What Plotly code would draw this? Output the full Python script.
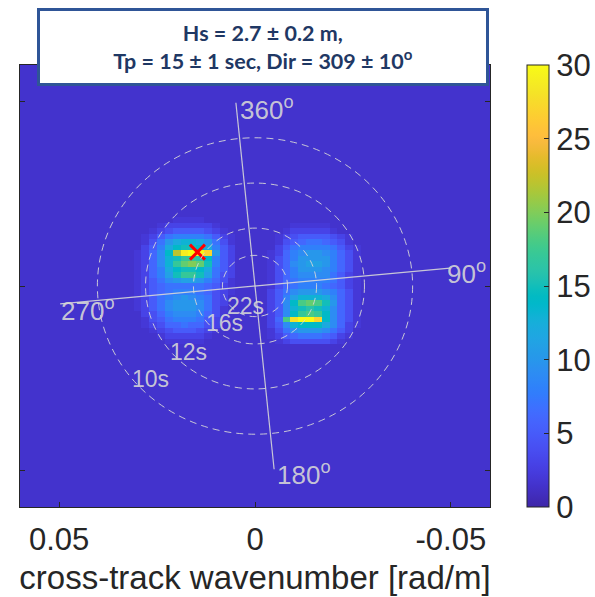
import numpy as np
import plotly.graph_objects as go

# ---------------- data ----------------
ZMIN, ZMAX = 0, 30
BG = 1.5                     # background spectral density
b = BG
DX, DY = 0.002, 0.0015       # grid spacing [rad/m]
KX = np.round(np.arange(-0.060, 0.060 + DX / 2, DX), 4)
KY = np.round(np.arange(-0.060, 0.060 + DY / 2, DY), 5)

# left patch: columns x = 0.030 ... 0.004 (step -DX), rows y = 0.018 ... -0.015 (step -DY)
LEFT_X0, LEFT_Y0 = 0.030, 0.018
left_patch = [
    [b, b, b, b, b, 2, 2, 2, 2, b, b, b, b, b],
    [b, b, b, 2, 3, 3, 3, 3, 3, 3, 2, b, b, b],
    [b, b, 2, 3, 4, 5, 5, 5, 5, 4, 3, 2, b, b],
    [b, 2, 3, 5, 7, 8, 8, 8, 8, 7, 5, 3, 2, b],
    [b, 2, 4, 7, 10, 12, 13, 13, 12, 10, 7, 4, 2, b],
    [b, 3, 5, 8, 12, 14, 15, 15, 14, 12, 8, 5, 3, b],
    [2, 3, 6, 9, 14, 22, 29, 30, 30, 27, 10, 5, 3, b],
    [2, 3, 6, 9, 13, 15, 17, 17, 16, 14, 8, 5, 3, b],
    [2, 3, 6, 9, 13, 17, 19, 20, 19, 15, 8, 5, 3, b],
    [2, 3, 6, 8, 12, 14, 15, 15, 14, 12, 7, 5, 3, b],
    [2, 3, 6, 8, 11, 15, 17, 17, 15, 11, 7, 4, 3, b],
    [2, 3, 5, 7, 9, 10, 11, 11, 10, 8, 6, 4, 2, b],
    [2, 3, 5, 6, 7, 7, 7, 7, 7, 6, 5, 3, 2, b],
    [2, 3, 5, 6, 7, 8, 8, 8, 7, 6, 4, 3, 2, b],
    [2, 3, 5, 7, 8, 9, 10, 9, 8, 7, 4, 3, b, b],
    [2, 3, 5, 7, 9, 10, 10, 10, 9, 7, 4, 3, b, b],
    [2, 3, 5, 7, 9, 10, 10, 10, 9, 7, 4, 2, b, b],
    [b, 3, 4, 6, 8, 9, 9, 9, 8, 6, 4, 2, b, b],
    [b, 2, 4, 5, 7, 8, 8, 8, 7, 5, 3, 2, b, b],
    [b, 2, 3, 4, 6, 6, 7, 6, 6, 4, 3, b, b, b],
    [b, b, 2, 3, 4, 5, 5, 5, 4, 3, 2, b, b, b],
    [b, b, b, 2, 3, 3, 3, 3, 3, 2, b, b, b, b],
    [b, b, b, b, 2, 2, 2, 2, 2, b, b, b, b, b],
]

# right patch: columns x = -0.004 ... -0.030, rows y = 0.018 ... -0.015
RIGHT_X0, RIGHT_Y0 = -0.004, 0.018
right_patch = [
    [b, b, b, b, b, b, b, b, b, b, b, b, b, b],
    [b, b, b, 2, 2, 2, 2, 2, b, b, b, b, b, b],
    [b, b, 2, 3, 3, 3, 3, 3, 2, b, b, b, b, b],
    [b, 2, 3, 4, 5, 5, 5, 5, 4, 3, 2, b, b, b],
    [b, 2, 4, 5, 6, 7, 7, 6, 5, 4, 2, b, b, b],
    [b, 3, 5, 7, 8, 8, 8, 8, 7, 5, 3, 2, b, b],
    [2, 3, 6, 8, 9, 10, 10, 9, 8, 6, 4, 2, b, b],
    [2, 4, 6, 8, 10, 10, 10, 10, 8, 6, 4, 2, b, b],
    [2, 4, 6, 9, 10, 11, 11, 10, 8, 6, 4, 2, b, b],
    [2, 4, 6, 8, 10, 10, 10, 9, 8, 6, 4, 2, b, b],
    [2, 4, 6, 8, 9, 9, 9, 9, 7, 5, 3, 2, b, b],
    [2, 4, 6, 7, 8, 8, 8, 8, 7, 5, 3, 2, b, b],
    [2, 4, 6, 7, 8, 8, 8, 7, 6, 5, 3, 2, b, b],
    [3, 5, 7, 9, 10, 10, 10, 9, 8, 6, 4, 2, b, b],
    [3, 5, 8, 11, 13, 13, 13, 12, 9, 6, 4, 2, b, b],
    [3, 5, 9, 14, 18, 19, 18, 15, 10, 6, 4, 2, b, b],
    [3, 5, 9, 13, 15, 16, 15, 13, 9, 6, 4, 2, b, b],
    [3, 5, 9, 14, 17, 18, 17, 14, 9, 6, 4, 2, b, b],
    [3, 6, 18, 28, 30, 30, 27, 14, 9, 6, 4, 2, b, b],
    [3, 5, 9, 13, 14, 14, 14, 12, 9, 6, 3, 2, b, b],
    [2, 4, 7, 9, 10, 10, 10, 9, 7, 5, 3, b, b, b],
    [2, 3, 5, 6, 7, 7, 7, 6, 5, 3, 2, b, b, b],
    [b, 2, 3, 4, 4, 4, 4, 4, 3, 2, b, b, b, b],
]

PEAK_X, PEAK_Y = 0.0147, 0.0092          # red cross (spectral peak)

PERIODS = [22, 16, 12, 10]               # wave period circles [s]
PERIOD_LABELS = ["22s", "16s", "12s", "10s"]
PERIOD_LABEL_X = [0.0023, 0.0079, 0.0170, 0.0266]
PERIOD_LABEL_Y = [-0.0054, -0.0100, -0.0179, -0.0252]

DIR_ROT = 5.6                            # rotation of compass [deg]
DIR_RADIUS = 0.05
DIR_LABELS = ["360<sup>o</sup>", "90<sup>o</sup>", "180<sup>o</sup>", "270<sup>o</sup>"]
DIR_LABEL_X = [-0.0030, -0.0540, -0.0124, 0.0426]
DIR_LABEL_Y = [0.0482, 0.0038, -0.0509, -0.0065]

TITLE_LINES = ["Hs = 2.7 ± 0.2 m,", "Tp = 15 ± 1 sec, Dir = 309 ± 10<sup>o</sup>"]
XTICKS = [0.05, 0, -0.05]
XTICK_TEXT = ["0.05", "0", "-0.05"]
CB_TICKS = [0, 5, 10, 15, 20, 25, 30]

# ---------------- build grid ----------------
z = np.full((len(KY), len(KX)), BG, dtype=float)
for patch, x0, y0 in [(left_patch, LEFT_X0, LEFT_Y0), (right_patch, RIGHT_X0, RIGHT_Y0)]:
    for i, row in enumerate(patch):
        iy = int(round((y0 - i * DY + 0.06) / DY))
        for j, v in enumerate(row):
            ix = int(round((x0 - j * DX + 0.06) / DX))
            z[iy, ix] = v

parula = [
    (0.2422, 0.1504, 0.6603), (0.2504, 0.1650, 0.7076), (0.2578, 0.1818, 0.7511), (0.2647, 0.1978, 0.7952),
    (0.2706, 0.2147, 0.8364), (0.2751, 0.2342, 0.8710), (0.2783, 0.2559, 0.8991), (0.2803, 0.2782, 0.9221),
    (0.2813, 0.3006, 0.9414), (0.2810, 0.3228, 0.9579), (0.2795, 0.3447, 0.9717), (0.2760, 0.3667, 0.9829),
    (0.2699, 0.3892, 0.9906), (0.2602, 0.4123, 0.9952), (0.2440, 0.4358, 0.9988), (0.2206, 0.4603, 0.9973),
    (0.1963, 0.4847, 0.9892), (0.1834, 0.5074, 0.9798), (0.1786, 0.5289, 0.9682), (0.1764, 0.5499, 0.9520),
    (0.1687, 0.5703, 0.9359), (0.1540, 0.5902, 0.9218), (0.1460, 0.6091, 0.9079), (0.1380, 0.6276, 0.8973),
    (0.1248, 0.6459, 0.8883), (0.1113, 0.6635, 0.8763), (0.0952, 0.6798, 0.8598), (0.0689, 0.6948, 0.8394),
    (0.0297, 0.7082, 0.8163), (0.0036, 0.7203, 0.7917), (0.0067, 0.7312, 0.7660), (0.0433, 0.7411, 0.7394),
    (0.0964, 0.7500, 0.7120), (0.1408, 0.7584, 0.6842), (0.1717, 0.7670, 0.6554), (0.1938, 0.7758, 0.6251),
    (0.2161, 0.7843, 0.5923), (0.2470, 0.7918, 0.5567), (0.2906, 0.7973, 0.5188), (0.3406, 0.8008, 0.4789),
    (0.3909, 0.8029, 0.4354), (0.4456, 0.8024, 0.3909), (0.5044, 0.7993, 0.3480), (0.5616, 0.7942, 0.3045),
    (0.6174, 0.7876, 0.2612), (0.6720, 0.7793, 0.2227), (0.7242, 0.7698, 0.1910), (0.7738, 0.7598, 0.1646),
    (0.8203, 0.7498, 0.1535), (0.8634, 0.7406, 0.1596), (0.9035, 0.7330, 0.1774), (0.9393, 0.7288, 0.2100),
    (0.9728, 0.7298, 0.2394), (0.9956, 0.7434, 0.2371), (0.9970, 0.7659, 0.2199), (0.9952, 0.7893, 0.2028),
    (0.9892, 0.8136, 0.1885), (0.9786, 0.8386, 0.1766), (0.9676, 0.8639, 0.1643), (0.9610, 0.8890, 0.1537),
    (0.9597, 0.9135, 0.1423), (0.9628, 0.9373, 0.1265), (0.9691, 0.9606, 0.1064), (0.9769, 0.9839, 0.0805),
]
n = len(parula)
colorscale = [[i / (n - 1), "rgb(%d,%d,%d)" % tuple(round(c * 255) for c in col)] for i, col in enumerate(parula)]

FONT = "Liberation Sans, Arial, sans-serif"
AX_COL = "#262626"
OVL = "rgba(215,215,215,0.9)"

fig = go.Figure()
fig.add_trace(go.Heatmap(
    x=KX, y=KY, z=z, zmin=ZMIN, zmax=ZMAX, colorscale=colorscale,
    colorbar=dict(
        x=1.0787, xanchor="left", xpad=0, y=0.5, yanchor="middle", ypad=0,
        len=1, lenmode="fraction", thickness=22, thicknessmode="pixels",
        tickvals=CB_TICKS, ticks="inside", ticklen=5, tickcolor=AX_COL,
        tickfont=dict(family=FONT, size=31, color=AX_COL),
        outlinecolor=AX_COL, outlinewidth=1,
    ),
    hoverinfo="skip",
))

# direction lines (diameters)
def dir_vec(d):
    a = np.deg2rad(d - DIR_ROT)
    return -DIR_RADIUS * np.sin(a), DIR_RADIUS * np.cos(a)

for d1, d2 in [(0, 180), (270, 90)]:
    x1, y1 = dir_vec(d1)
    x2, y2 = dir_vec(d2)
    fig.add_trace(go.Scatter(x=[x1, x2], y=[y1, y2], mode="lines",
                             line=dict(color=OVL, width=1.2), showlegend=False, hoverinfo="skip"))

# period circles
for T in PERIODS:
    k = (2 * np.pi / T) ** 2 / 9.81
    fig.add_shape(type="circle", xref="x", yref="y", x0=-k, x1=k, y0=-k, y1=k,
                  line=dict(color=OVL, width=1, dash="7px,5px"))

# peak marker
fig.add_trace(go.Scatter(x=[PEAK_X], y=[PEAK_Y], mode="markers",
                         marker=dict(symbol="x-thin", size=15, line=dict(width=3, color="#ff0000")),
                         showlegend=False, hoverinfo="skip"))

for t, x, y in zip(PERIOD_LABELS, PERIOD_LABEL_X, PERIOD_LABEL_Y):
    fig.add_annotation(x=x, y=y, xref="x", yref="y", text=t, showarrow=False,
                       font=dict(family=FONT, size=23, color=OVL))
for t, x, y in zip(DIR_LABELS, DIR_LABEL_X, DIR_LABEL_Y):
    fig.add_annotation(x=x, y=y, xref="x", yref="y", text=t, showarrow=False,
                       font=dict(family=FONT, size=26, color=OVL))

# title box
fig.add_annotation(
    x=0.518, y=1.0407, xref="paper", yref="paper", xanchor="center", yanchor="middle",
    text="<br>".join("<b>%s</b>" % s for s in TITLE_LINES), showarrow=False,
    font=dict(family="Lato, sans-serif", size=21.5, color="#1f3864"),
    bgcolor="white", bordercolor="#2f5597", borderwidth=3, borderpad=0,
    width=446, height=72, align="center",
)

fig.update_layout(
    width=595, height=597,
    margin=dict(l=20, r=105, t=65, b=90, autoexpand=False),
    paper_bgcolor="white", plot_bgcolor="white",
    showlegend=False,
    xaxis=dict(
        range=[0.06, -0.06], tickvals=XTICKS, ticktext=XTICK_TEXT, automargin=False,
        ticks="inside", ticklen=5, tickcolor=AX_COL, showline=True, linecolor=AX_COL,
        linewidth=1, mirror="ticks", showgrid=False, zeroline=False,
        tickfont=dict(family=FONT, size=31, color=AX_COL), ticklabelstandoff=5,
        title=dict(text="cross-track wavenumber [rad/m]", font=dict(family=FONT, size=33, color=AX_COL), standoff=9),
    ),
    yaxis=dict(
        range=[-0.06, 0.06], tickvals=[-0.05, 0, 0.05], showticklabels=False, automargin=False,
        ticks="inside", ticklen=5, tickcolor=AX_COL, showline=True, linecolor=AX_COL,
        linewidth=1, mirror="ticks", showgrid=False, zeroline=False,
    ),
)

fig.write_html("out.html", config={"displayModeBar": False},
               post_script="document.body.style.margin='0px';")
